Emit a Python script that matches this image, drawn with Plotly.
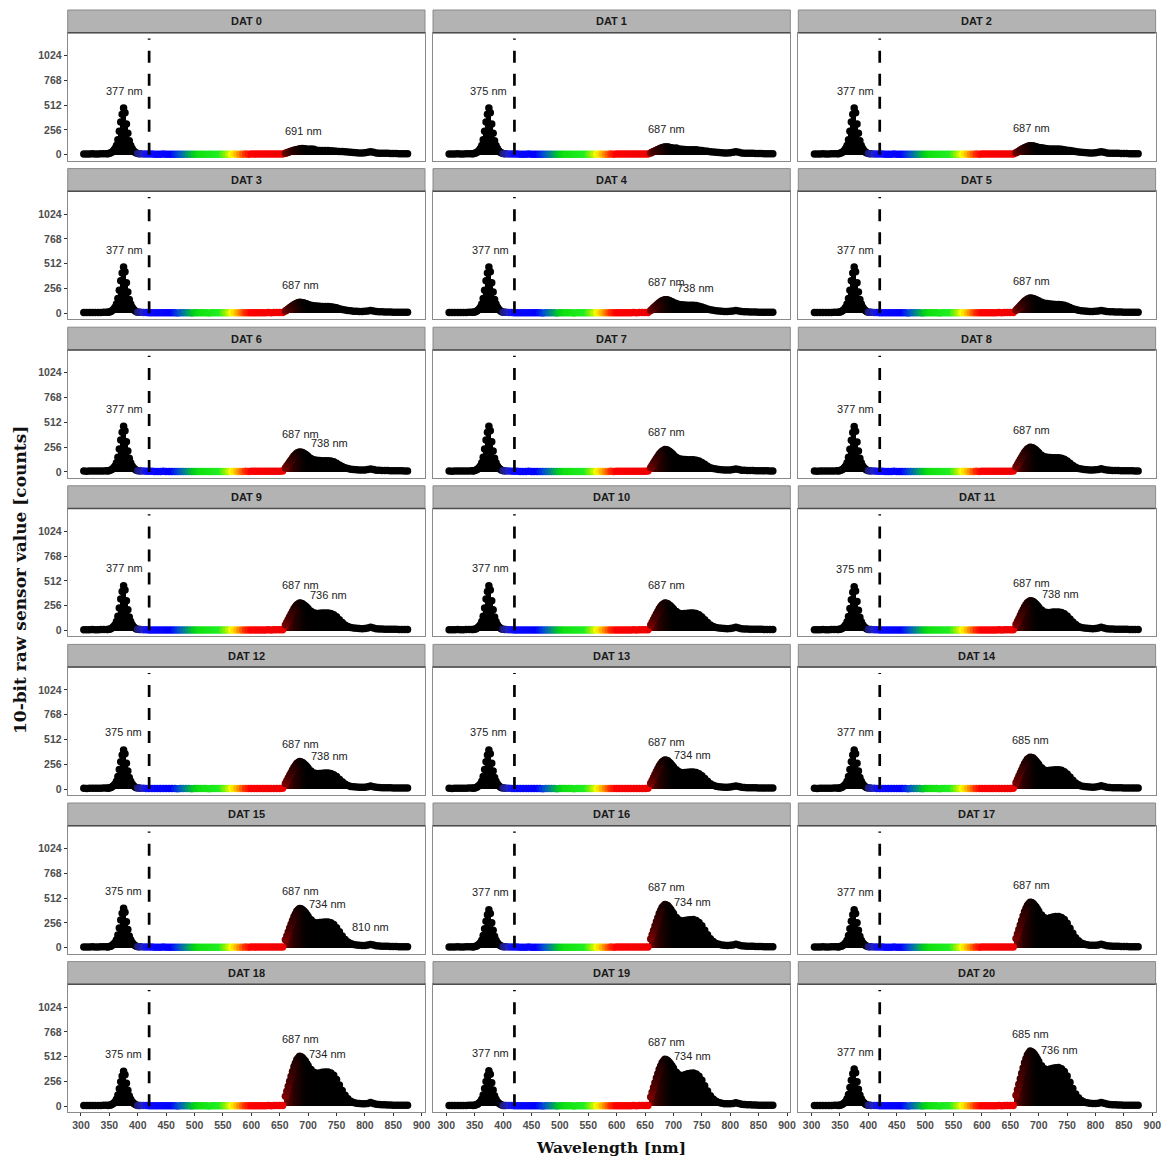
import plotly.graph_objects as go

# ---------------- data ----------------
WL_UV_BASE = [305, 310, 315, 320, 325, 330, 335, 340]
WL_UV_PEAK = [345 + 2.5 * k for k in range(25)]        # 345 .. 405
WL_VIS = list(range(410, 660, 5))                       # 410 .. 655
WL_NIR_FINE = [660 + 2.5 * k for k in range(17)]       # 660 .. 700
WL_NIR = list(range(705, 880, 5))                       # 705 .. 875

UV_BASELINE = [8, 7, 8, 9, 8, 8, 9, 10]
VIS_BASELINE = [8, 7, 6, 6, 5, 5, 5, 6, 5, 5,
                5, 5, 4, 5, 5, 5, 5, 4, 5, 5,
                5, 5, 5, 4, 5, 5, 5, 5, 5, 5,
                5, 5, 6, 5, 5, 5, 6, 5, 6, 6,
                6, 6, 6, 6, 7, 6, 7, 7, 7, 8]

# UV (excitation) peak, 345..405 nm
DAT0_UV = [11, 10, 14, 19, 29, 43, 63, 96, 154, 241, 337, 418, 481, 433, 317, 221, 144, 96, 63, 41, 26, 17, 12, 11, 10]
DAT1_UV = [11, 10, 14, 19, 29, 43, 63, 96, 154, 241, 337, 418, 481, 433, 317, 221, 144, 96, 63, 41, 26, 17, 12, 11, 10]
DAT2_UV = [11, 10, 14, 19, 29, 43, 63, 96, 154, 241, 337, 418, 481, 433, 317, 221, 144, 96, 63, 41, 26, 17, 12, 11, 10]
DAT3_UV = [11, 10, 14, 19, 29, 43, 62, 96, 153, 239, 335, 416, 478, 430, 315, 220, 143, 96, 62, 41, 26, 17, 12, 11, 10]
DAT4_UV = [11, 10, 14, 19, 29, 43, 62, 96, 153, 239, 335, 416, 478, 430, 315, 220, 143, 96, 62, 41, 26, 17, 12, 11, 10]
DAT5_UV = [11, 10, 14, 19, 29, 43, 62, 96, 153, 239, 335, 416, 478, 430, 315, 220, 143, 96, 62, 41, 26, 17, 12, 11, 10]
DAT6_UV = [11, 9, 14, 19, 28, 42, 61, 94, 151, 236, 330, 410, 471, 424, 311, 217, 141, 94, 61, 40, 26, 16, 12, 11, 10]
DAT7_UV = [11, 9, 14, 19, 28, 42, 61, 94, 151, 236, 330, 410, 471, 424, 311, 217, 141, 94, 61, 40, 26, 16, 12, 11, 10]
DAT8_UV = [11, 9, 14, 19, 28, 42, 61, 94, 150, 234, 328, 407, 468, 421, 309, 215, 140, 94, 61, 40, 26, 16, 12, 11, 10]
DAT9_UV = [11, 9, 14, 19, 28, 42, 60, 93, 148, 232, 324, 403, 463, 417, 306, 213, 139, 93, 60, 39, 25, 16, 12, 11, 10]
DAT10_UV = [11, 9, 14, 19, 28, 42, 60, 93, 148, 232, 324, 403, 463, 417, 306, 213, 139, 93, 60, 39, 25, 16, 12, 11, 10]
DAT11_UV = [11, 9, 14, 18, 27, 41, 59, 91, 145, 227, 317, 394, 453, 408, 299, 208, 136, 91, 59, 39, 25, 16, 11, 11, 10]
DAT12_UV = [10, 8, 12, 16, 24, 36, 53, 81, 129, 202, 283, 351, 404, 364, 267, 186, 121, 81, 53, 34, 22, 14, 10, 10, 9]
DAT13_UV = [10, 8, 12, 16, 24, 36, 53, 81, 129, 202, 283, 351, 404, 364, 267, 186, 121, 81, 53, 34, 22, 14, 10, 10, 9]
DAT14_UV = [10, 8, 12, 16, 24, 36, 53, 81, 129, 202, 283, 351, 404, 364, 267, 186, 121, 81, 53, 34, 22, 14, 10, 10, 9]
DAT15_UV = [10, 8, 12, 16, 24, 37, 53, 82, 131, 204, 286, 355, 408, 367, 269, 188, 122, 82, 53, 35, 22, 14, 10, 10, 9]
DAT16_UV = [10, 8, 12, 16, 23, 35, 51, 78, 125, 196, 274, 340, 391, 352, 258, 180, 117, 78, 51, 33, 22, 14, 10, 10, 9]
DAT17_UV = [10, 8, 12, 16, 23, 35, 51, 78, 125, 196, 274, 340, 391, 352, 258, 180, 117, 78, 51, 33, 22, 14, 10, 10, 9]
DAT18_UV = [10, 7, 11, 14, 22, 32, 47, 72, 116, 181, 253, 314, 361, 325, 238, 166, 108, 72, 47, 31, 20, 13, 9, 9, 9]
DAT19_UV = [10, 7, 11, 15, 22, 33, 48, 73, 117, 184, 257, 319, 367, 330, 242, 169, 110, 73, 48, 31, 20, 13, 9, 9, 9]
DAT20_UV = [10, 8, 12, 15, 23, 35, 50, 77, 123, 193, 270, 335, 385, 347, 254, 177, 116, 77, 50, 33, 21, 13, 10, 10, 9]

# red-edge rise and 685-690 nm peak, 660..700 nm (2.5 nm steps)
DAT0_RISE = [15, 20, 25, 30, 35, 40, 45, 49, 52, 55, 58, 61, 64, 61, 58, 56, 55]
DAT1_RISE = [18, 25, 32, 39, 46, 53, 60, 66, 72, 76, 80, 80, 79, 76, 72, 69, 66]
DAT2_RISE = [20, 28, 37, 46, 55, 63, 72, 78, 85, 89, 92, 91, 90, 86, 82, 78, 74]
DAT3_RISE = [23, 34, 45, 56, 68, 78, 89, 97, 105, 109, 113, 112, 110, 106, 102, 97, 92]
DAT4_RISE = [28, 42, 56, 70, 84, 97, 110, 120, 130, 135, 140, 139, 136, 131, 125, 118, 111]
DAT5_RISE = [31, 47, 63, 78, 94, 109, 124, 135, 146, 152, 157, 156, 152, 147, 141, 134, 126]
DAT6_RISE = [41, 62, 82, 103, 124, 144, 163, 178, 192, 199, 206, 204, 200, 191, 182, 171, 159]
DAT7_RISE = [46, 69, 92, 115, 138, 160, 182, 198, 214, 222, 230, 228, 223, 213, 202, 189, 175]
DAT8_RISE = [51, 77, 102, 127, 152, 177, 201, 219, 236, 245, 254, 252, 246, 236, 225, 211, 197]
DAT9_RISE = [57, 86, 114, 142, 170, 197, 224, 244, 264, 274, 284, 281, 275, 264, 253, 239, 224]
DAT10_RISE = [56, 85, 113, 142, 170, 197, 224, 244, 264, 274, 284, 281, 276, 264, 252, 237, 222]
DAT11_RISE = [62, 93, 123, 154, 185, 214, 243, 265, 286, 297, 308, 305, 299, 287, 274, 257, 240]
DAT12_RISE = [57, 86, 114, 142, 170, 197, 224, 244, 264, 274, 284, 281, 275, 262, 249, 233, 216]
DAT13_RISE = [60, 90, 120, 151, 181, 210, 238, 259, 280, 291, 301, 298, 292, 278, 264, 247, 229]
DAT14_RISE = [66, 99, 132, 165, 198, 230, 261, 284, 307, 319, 330, 327, 320, 306, 291, 272, 253]
DAT15_RISE = [81, 122, 162, 203, 243, 282, 320, 349, 377, 391, 405, 401, 393, 378, 363, 343, 323]
DAT16_RISE = [89, 134, 178, 223, 267, 310, 352, 383, 414, 430, 445, 441, 432, 415, 397, 375, 352]
DAT17_RISE = [94, 141, 188, 235, 282, 327, 371, 404, 437, 454, 470, 466, 456, 439, 422, 400, 377]
DAT18_RISE = [103, 155, 206, 258, 310, 359, 408, 444, 480, 498, 516, 511, 501, 484, 467, 443, 419]
DAT19_RISE = [97, 146, 194, 243, 291, 337, 383, 417, 451, 468, 485, 480, 470, 454, 437, 415, 392]
DAT20_RISE = [114, 171, 228, 285, 342, 396, 450, 490, 530, 550, 570, 564, 553, 534, 515, 489, 463]

# far-red shoulder and tail, 705..875 nm
DAT0_NIR = [60, 55, 46, 44, 43, 42, 42, 40, 38, 36, 34, 32, 30, 28, 25, 22, 20, 18, 18, 20, 24, 30, 24, 18, 16, 15, 14, 14, 13, 12, 12, 11, 11, 10, 10]
DAT1_NIR = [68, 60, 55, 53, 52, 52, 52, 50, 47, 43, 39, 35, 31, 28, 25, 22, 20, 18, 18, 20, 24, 30, 24, 18, 16, 15, 14, 14, 13, 12, 12, 11, 11, 10, 10]
DAT2_NIR = [72, 66, 62, 60, 59, 58, 58, 56, 52, 47, 42, 37, 32, 28, 25, 22, 20, 18, 18, 20, 24, 30, 24, 18, 16, 15, 14, 14, 13, 12, 12, 11, 11, 10, 10]
DAT3_NIR = [84, 78, 75, 73, 71, 70, 70, 68, 63, 56, 48, 40, 34, 29, 25, 22, 20, 19, 18, 20, 24, 30, 24, 18, 16, 15, 14, 14, 13, 12, 12, 11, 11, 10, 10]
DAT4_NIR = [100, 91, 88, 86, 84, 82, 82, 80, 74, 65, 55, 45, 37, 31, 26, 23, 21, 19, 18, 20, 24, 30, 24, 18, 16, 15, 14, 14, 13, 12, 12, 11, 11, 10, 10]
DAT5_NIR = [113, 103, 100, 97, 94, 92, 92, 89, 83, 72, 60, 48, 39, 32, 27, 24, 21, 19, 18, 20, 24, 30, 24, 18, 16, 15, 14, 14, 13, 12, 12, 11, 11, 10, 10]
DAT6_NIR = [139, 125, 120, 118, 116, 115, 115, 112, 104, 90, 71, 55, 42, 34, 28, 25, 22, 20, 19, 20, 24, 30, 24, 18, 16, 15, 14, 14, 13, 12, 12, 11, 11, 10, 10]
DAT7_NIR = [152, 136, 130, 128, 126, 125, 125, 121, 113, 98, 78, 58, 44, 35, 29, 25, 22, 20, 19, 20, 24, 31, 24, 18, 16, 15, 14, 14, 13, 12, 12, 11, 11, 10, 10]
DAT8_NIR = [173, 156, 150, 148, 146, 145, 145, 141, 131, 113, 90, 67, 48, 36, 29, 25, 22, 20, 19, 21, 25, 32, 25, 19, 16, 15, 14, 14, 13, 12, 12, 11, 11, 10, 10]
DAT9_NIR = [199, 182, 175, 177, 180, 181, 181, 176, 163, 141, 112, 83, 58, 40, 30, 25, 22, 20, 19, 21, 26, 33, 26, 19, 16, 15, 14, 14, 13, 12, 12, 11, 11, 10, 10]
DAT10_NIR = [197, 179, 172, 175, 178, 180, 180, 175, 162, 140, 112, 83, 58, 40, 30, 25, 22, 20, 19, 21, 26, 33, 26, 19, 16, 15, 14, 14, 13, 12, 12, 11, 11, 10, 10]
DAT11_NIR = [212, 192, 185, 187, 190, 191, 191, 185, 172, 149, 118, 88, 61, 42, 31, 26, 23, 20, 19, 21, 26, 33, 26, 19, 16, 15, 14, 14, 13, 12, 12, 11, 11, 10, 10]
DAT12_NIR = [187, 167, 160, 162, 164, 165, 165, 160, 149, 129, 102, 76, 53, 37, 28, 24, 21, 19, 18, 20, 25, 32, 25, 18, 16, 15, 14, 14, 13, 12, 12, 11, 11, 10, 10]
DAT13_NIR = [199, 178, 170, 172, 175, 176, 176, 171, 158, 137, 109, 81, 56, 39, 29, 25, 22, 20, 19, 21, 26, 33, 26, 19, 16, 15, 14, 14, 13, 12, 12, 11, 11, 10, 10]
DAT14_NIR = [221, 198, 190, 194, 198, 200, 200, 194, 180, 156, 124, 92, 64, 44, 32, 27, 23, 21, 20, 21, 26, 34, 26, 19, 16, 15, 14, 14, 13, 12, 12, 11, 11, 10, 10]
DAT15_NIR = [288, 264, 255, 259, 263, 265, 266, 258, 239, 207, 165, 122, 85, 59, 42, 33, 27, 24, 22, 23, 27, 34, 27, 20, 17, 15, 14, 14, 13, 12, 12, 11, 11, 10, 10]
DAT16_NIR = [312, 285, 275, 280, 286, 289, 290, 281, 261, 226, 180, 133, 93, 64, 44, 35, 28, 25, 23, 24, 28, 35, 28, 21, 17, 15, 14, 14, 13, 12, 12, 11, 11, 10, 10]
DAT17_NIR = [337, 310, 300, 308, 317, 322, 323, 313, 291, 252, 200, 149, 103, 71, 48, 37, 30, 26, 24, 25, 29, 36, 29, 21, 18, 16, 14, 14, 13, 12, 12, 11, 11, 10, 10]
DAT18_NIR = [379, 351, 340, 345, 351, 354, 355, 344, 320, 277, 220, 163, 114, 78, 53, 40, 32, 28, 25, 26, 30, 38, 30, 22, 18, 16, 15, 14, 13, 12, 12, 11, 11, 10, 10]
DAT19_NIR = [352, 325, 315, 325, 336, 341, 343, 333, 309, 268, 213, 158, 110, 75, 51, 39, 31, 27, 25, 26, 30, 37, 29, 21, 18, 16, 15, 14, 13, 12, 12, 11, 11, 10, 10]
DAT20_NIR = [418, 387, 375, 384, 394, 398, 400, 388, 360, 312, 248, 184, 128, 88, 60, 45, 36, 31, 28, 28, 32, 40, 32, 24, 19, 17, 15, 14, 13, 12, 12, 11, 11, 10, 10]

UV_LIST = [DAT0_UV, DAT1_UV, DAT2_UV, DAT3_UV, DAT4_UV, DAT5_UV, DAT6_UV, DAT7_UV, DAT8_UV, DAT9_UV, DAT10_UV,
           DAT11_UV, DAT12_UV, DAT13_UV, DAT14_UV, DAT15_UV, DAT16_UV, DAT17_UV, DAT18_UV, DAT19_UV, DAT20_UV]
RISE_LIST = [DAT0_RISE, DAT1_RISE, DAT2_RISE, DAT3_RISE, DAT4_RISE, DAT5_RISE, DAT6_RISE, DAT7_RISE, DAT8_RISE,
             DAT9_RISE, DAT10_RISE, DAT11_RISE, DAT12_RISE, DAT13_RISE, DAT14_RISE, DAT15_RISE, DAT16_RISE,
             DAT17_RISE, DAT18_RISE, DAT19_RISE, DAT20_RISE]
NIR_LIST = [DAT0_NIR, DAT1_NIR, DAT2_NIR, DAT3_NIR, DAT4_NIR, DAT5_NIR, DAT6_NIR, DAT7_NIR, DAT8_NIR, DAT9_NIR,
            DAT10_NIR, DAT11_NIR, DAT12_NIR, DAT13_NIR, DAT14_NIR, DAT15_NIR, DAT16_NIR, DAT17_NIR, DAT18_NIR,
            DAT19_NIR, DAT20_NIR]

PANEL_TITLES = ["DAT %d" % i for i in range(21)]

PEAK_LABELS = [
    [377, 691], [375, 687], [377, 687],
    [377, 687], [377, 687, 738], [377, 687],
    [377, 687, 738], [687], [377, 687],
    [377, 687, 736], [377, 687], [375, 687, 738],
    [375, 687, 738], [375, 687, 734], [377, 685],
    [375, 687, 734, 810], [377, 687, 734], [377, 687],
    [375, 687, 734], [377, 687, 734], [377, 685, 736],
]

CUTOFF_NM = 420
CUTOFF_TOP = 1200
X_TICKS = list(range(300, 901, 50))
Y_TICKS = [0, 256, 512, 768, 1024]

# ---------------- styling ----------------
W, H = 1169, 1157
COL_LEFT = [67.7, 433.0, 798.3]
PANEL_W = 357.3
ROW_TOP0, ROW_PITCH = 10.0, 158.6
STRIP_H, PANEL_TOTAL = 22.7, 150.5
X_RANGE = [276.6, 905.8]
Y_RANGE = [-60, 1260]

WL_MIN, WL_MAX = 300, 880
color_stops = [
    (300, "#000000"), (399, "#000000"), (400, "#1c1c70"), (410, "#2020c8"), (420, "#0a0aff"),
    (460, "#0000ff"), (475, "#0050d0"), (490, "#009a70"), (500, "#00cc20"), (510, "#10e010"),
    (545, "#20ee20"), (558, "#a0f000"), (566, "#ffff00"), (578, "#ffa000"), (590, "#ff3000"),
    (600, "#ff0000"), (655, "#ee0000"), (658, "#a00000"), (660, "#780000"), (667, "#480000"),
    (677, "#260000"), (690, "#0c0000"), (700, "#000000"), (880, "#000000"),
]
colorscale = [[(w - WL_MIN) / (WL_MAX - WL_MIN), c] for w, c in color_stops]

wl_all = WL_UV_BASE + WL_UV_PEAK + WL_VIS + WL_NIR_FINE + WL_NIR
# bar width from local sampling step (slight overlap to avoid seams)
bar_w = []
for k, w in enumerate(wl_all):
    steps = []
    if k > 0:
        steps.append(w - wl_all[k - 1])
    if k < len(wl_all) - 1:
        steps.append(wl_all[k + 1] - w)
    bar_w.append(max(steps) * 1.15)

tick_font = dict(family="Liberation Sans, Arial", size=10.5, color="#4d4d4d", weight="bold")

fig = go.Figure()
annotations = []
shapes = []
layout_axes = {}

for i in range(21):
    r, c = divmod(i, 3)
    n = i + 1
    xa = "x" if n == 1 else "x%d" % n
    ya = "y" if n == 1 else "y%d" % n
    vals = UV_BASELINE + UV_LIST[i] + VIS_BASELINE + RISE_LIST[i] + NIR_LIST[i]

    fig.add_trace(go.Bar(
        x=wl_all, y=vals, width=bar_w, xaxis=xa, yaxis=ya,
        marker=dict(color=wl_all, colorscale=colorscale, cmin=WL_MIN, cmax=WL_MAX, line=dict(width=0)),
        showlegend=False, hoverinfo="skip",
    ))
    fig.add_trace(go.Scatter(
        x=wl_all, y=vals, mode="markers", xaxis=xa, yaxis=ya,
        marker=dict(size=7.5, color=wl_all, colorscale=colorscale, cmin=WL_MIN, cmax=WL_MAX, line=dict(width=0)),
        showlegend=False, hoverinfo="skip",
    ))
    fig.add_trace(go.Scatter(
        x=[CUTOFF_NM, CUTOFF_NM], y=[0, CUTOFF_TOP], mode="lines", xaxis=xa, yaxis=ya,
        line=dict(color="black", width=2.7, dash="12px,11px"),
        showlegend=False, hoverinfo="skip",
    ))

    left = COL_LEFT[c]
    right = left + PANEL_W
    top = ROW_TOP0 + ROW_PITCH * r
    x0, x1 = left / W, right / W
    y_strip_top = 1 - top / H
    y_strip_bot = 1 - (top + STRIP_H) / H
    y_panel_bot = 1 - (top + PANEL_TOTAL) / H

    bottom_row = (r == 6)
    first_col = (c == 0)
    layout_axes["xaxis" if n == 1 else "xaxis%d" % n] = dict(
        domain=[x0, x1], anchor=ya, range=X_RANGE, showgrid=False, zeroline=False, automargin=False,
        showline=True, mirror=True, linecolor="#8a8a8a", linewidth=1,
        tickmode="array", tickvals=X_TICKS, ticks="outside" if bottom_row else "",
        ticklen=3, tickcolor="#333333", showticklabels=bottom_row, tickfont=tick_font,
    )
    layout_axes["yaxis" if n == 1 else "yaxis%d" % n] = dict(
        domain=[y_panel_bot, y_strip_bot], anchor=xa, range=Y_RANGE, showgrid=False, zeroline=False,
        automargin=False, showline=True, mirror=True, linecolor="#8a8a8a", linewidth=1,
        tickmode="array", tickvals=Y_TICKS, ticks="outside" if first_col else "",
        ticklen=3, tickcolor="#333333", showticklabels=first_col, tickfont=tick_font,
    )

    # facet strip
    shapes.append(dict(type="rect", xref="paper", yref="paper", x0=x0, x1=x1, y0=y_strip_bot, y1=y_strip_top,
                       fillcolor="#b3b3b3", line=dict(color="#8a8a8a", width=1), layer="above"))
    shapes.append(dict(type="line", xref="paper", yref="paper", x0=x0, x1=x1, y0=y_strip_bot, y1=y_strip_bot,
                       line=dict(color="#4d4d4d", width=1.5), layer="above"))
    annotations.append(dict(x=(x0 + x1) / 2, y=(y_strip_bot + y_strip_top) / 2, xref="paper", yref="paper",
                            xanchor="center", yanchor="middle", text=PANEL_TITLES[i], showarrow=False,
                            font=dict(family="Liberation Sans, Arial", size=11, color="#1a1a1a", weight="bold")))

    # peak labels
    for pk in PEAK_LABELS[i]:
        near = [v for w, v in zip(wl_all, vals) if abs(w - pk) <= 3]
        annotations.append(dict(x=pk, y=max(near), xref=xa, yref=ya, text="%d nm" % pk, showarrow=False,
                                xanchor="center", yanchor="middle", yshift=17.5,
                                font=dict(family="Liberation Sans, Arial", size=11, color="#222222")))

annotations.append(dict(x=611 / W, y=1 - 1147 / H, xref="paper", yref="paper", text="Wavelength [nm]",
                        xanchor="center", yanchor="middle", showarrow=False,
                        font=dict(family="DejaVu Serif", size=15.5, color="#111111", weight="bold")))
annotations.append(dict(x=20 / W, y=1 - 580 / H, xref="paper", yref="paper",
                        text="10-bit raw sensor value [counts]", textangle=-90, showarrow=False,
                        xanchor="center", yanchor="middle",
                        font=dict(family="DejaVu Serif", size=17, color="#111111", weight="bold")))

fig.update_layout(
    width=W, height=H, margin=dict(l=0, r=0, t=0, b=0),
    paper_bgcolor="white", plot_bgcolor="white",
    barmode="overlay", bargap=0,
    annotations=annotations, shapes=shapes, **layout_axes,
)

fig.write_html("out.html", config={"displayModeBar": False},
               post_script="document.body.style.margin='0px';document.body.style.overflow='hidden';")
